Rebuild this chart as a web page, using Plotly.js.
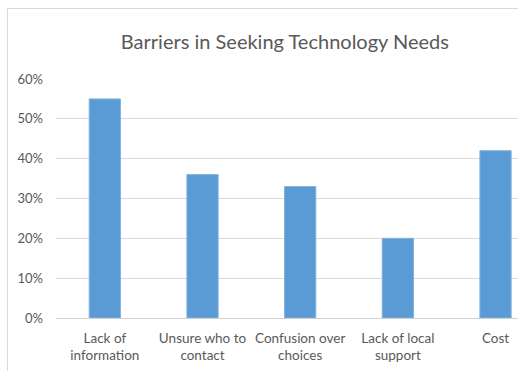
<!DOCTYPE html>
<html>
<head>
<meta charset="utf-8">
<script src="https://cdn.plot.ly/plotly-3.0.1.min.js"></script>
<style>
html, body { margin: 0; padding: 0; background: #fff; overflow: hidden; }
#chart { position: absolute; left: 0; top: 0; width: 518px; height: 371px; }
#frame { position: absolute; left: 7px; top: 8px; width: 530px; height: 380px;
  border-left: 1.5px solid #d9d9d9; border-top: 1.5px solid #d9d9d9; pointer-events: none; }
</style>
</head>
<body>
<div id="chart"></div>
<div id="frame"></div>
<script>
const categories = ["Lack of<br>information", "Unsure who to<br>contact", "Confusion over<br>choices", "Lack of local<br>support", "Cost"];
const values = [0.55, 0.36, 0.33, 0.20, 0.42];
const yTicks = [0, 0.1, 0.2, 0.3, 0.4, 0.5, 0.6];
const titleText = "Barriers in Seeking Technology Needs";

const font = "Lato, 'Open Sans', sans-serif";

Plotly.newPlot("chart", [{
  type: "bar",
  x: categories,
  y: values,
  width: 0.32,
  marker: { color: "#5b9bd5", line: { color: "#7fb2e0", width: 1 } },
  hoverinfo: "skip"
}], {
  width: 518, height: 371,
  margin: { l: 56, r: 0, t: 79, b: 53 },
  paper_bgcolor: "#fff", plot_bgcolor: "#fff",
  showlegend: false,
  title: { text: titleText, font: { family: font, size: 20, color: "#595959" },
           x: 0.55, xanchor: "center", y: 1 - 42/371, yanchor: "middle" },
  xaxis: {
    type: "category", range: [-0.5, 4.23],
    showgrid: false, zeroline: false,
    showline: false, ticks: "",
    tickfont: { family: font, size: 13.5, color: "#595959" },
    ticklabelstandoff: 10
  },
  yaxis: {
    range: [0, 0.6], tickvals: yTicks, tickformat: ".0%",
    showgrid: true, gridcolor: "#d9d9d9", gridwidth: 1,
    zeroline: true, zerolinecolor: "#d0d0d0", zerolinewidth: 1,
    showline: false, ticks: "",
    tickfont: { family: font, size: 13, color: "#595959" },
    ticklabelstandoff: 12
  },
  bargap: 0.68
}, { displayModeBar: false, staticPlot: true });
</script>
</body>
</html>
